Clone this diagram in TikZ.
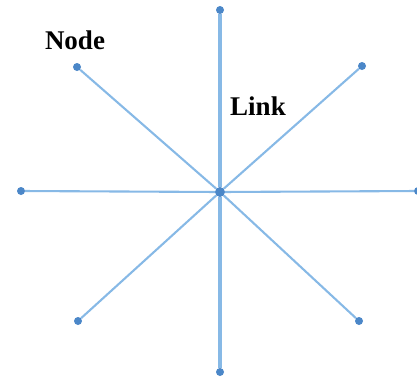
\documentclass[tikz,border=0pt]{standalone}
\usepackage{fontspec}
\setmainfont{Liberation Serif}
\usepackage{xcolor}
\usetikzlibrary{positioning}
\definecolor{linkblue}{RGB}{135,185,230}
\definecolor{nodeblue}{RGB}{75,135,200}

\begin{document}
\begin{tikzpicture}[x=1pt, y=-1pt,
  dot/.style={circle, fill=nodeblue, inner sep=0pt, minimum size=8pt},
  hubdot/.style={dot, minimum size=10pt},
  link/.style={draw=linkblue, line width=2.1pt},
  mainlink/.style={link, line width=3.2pt},
  tag/.style={font=\fontsize{27}{27}\selectfont\bfseries, inner sep=0pt, anchor=base}
]
\useasboundingbox (0,0) rectangle (417,378);

\node[hubdot] (hub) at (220,192) {};
\node[dot] (top)    at (220,10)  {};
\node[dot] (bottom) at (220,372) {};
\node[dot] (left)   at (21,191)  {};
\node[dot] (right)  at (418,191) {};
\node[dot] (tl)     at (77,67)   {};
\node[dot] (tr)     at (362,66)  {};
\node[dot] (bl)     at (78,321)  {};
\node[dot] (br)     at (359,321) {};

\draw[mainlink] (hub) -- (top);
\draw[mainlink] (hub) -- (bottom);
\draw[link] (hub) -- (left);
\draw[link] (hub) -- (right);
\draw[link] (hub) -- (tl);
\draw[link] (hub) -- (tr);
\draw[link] (hub) -- (bl);
\draw[link] (hub) -- (br);

\node[tag] (nodetag) at (75,49)  {Node};
\node[tag] (linktag) at (258,115) {Link};
\end{tikzpicture}
\end{document}
